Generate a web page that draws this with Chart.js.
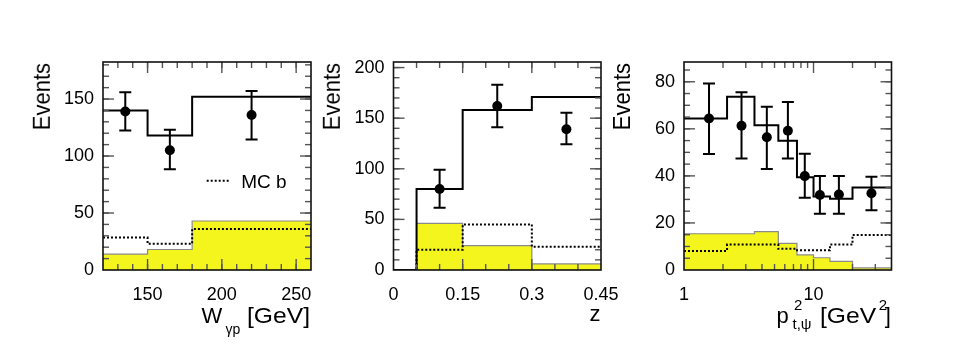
<!DOCTYPE html>
<html><head><meta charset="utf-8">
<script src="https://cdn.jsdelivr.net/npm/chart.js@4.4.0/dist/chart.umd.min.js"></script>
<style>
html,body{margin:0;padding:0;background:#fff;}
#wrap{position:relative;width:954px;height:353px;overflow:hidden;font-family:'Liberation Sans',Arial,Helvetica,sans-serif;color:#000;}
canvas{position:absolute;left:0;top:0;}
.t{position:absolute;white-space:pre;}
.sx{transform-origin:0 0;transform:scaleX(1.12);}
.f22{font-size:22px;line-height:22px;}
.f19{font-size:19px;line-height:19px;}
.f15{font-size:15px;line-height:15px;}
.f14{font-size:14px;line-height:14px;}
.ev{position:absolute;width:150px;text-align:right;font-size:22px;line-height:22px;transform-origin:0 0;transform:rotate(-90deg) scaleY(1.08);white-space:pre;}
</style></head><body><div id="wrap">
<canvas id="c1" width="954" height="353"></canvas>
<canvas id="c2" width="954" height="353"></canvas>
<canvas id="c3" width="954" height="353"></canvas>

<div class="ev" style="left:30.2px;top:213px">Events</div>
<div class="ev" style="left:320.4px;top:213px">Events</div>
<div class="ev" style="left:611.2px;top:213px">Events</div>

<div class="t f19" style="left:241.3px;top:172.2px">MC b</div>

<div class="t f22" style="left:201.5px;top:304.7px">W</div>
<div class="t f14" style="left:225.5px;top:322.2px">γp</div>
<div class="t f22 sx" style="left:247px;top:304.7px">[GeV]</div>

<div class="t f22" style="left:589.5px;top:303.1px">z</div>

<div class="t f22" style="left:776.5px;top:304.9px">p</div>
<div class="t f15" style="left:792.5px;top:316.3px">t,ψ</div>
<div class="t f15" style="left:794px;top:297.3px">2</div>
<div class="t f22 sx" style="left:820.4px;top:304.9px">[GeV</div>
<div class="t f15" style="left:878.8px;top:297.3px">2</div>
<div class="t f22" style="left:884.8px;top:304.9px">]</div>
</div>
<script>
// ---------- Panel 1: W_gamma p ----------
const wEdges = [120, 150, 180, 260];
const wMC    = [140, 118, 152];
const wMCb   = [28.5, 23, 36];
const wBgd   = [14, 18, 43];
const wX     = [135, 165, 220];
const wData  = [139, 105, 136];
const wLow   = [122.5, 88.5, 114.5];
const wHigh  = [156, 123, 157];
const wXTicks = [150, 200, 250];
const wXLabels = ['150', '200', '250'];
const wYTicks = [0, 50, 100, 150];
const wYLabels = ['0', '50', '100', '150'];

// ---------- Panel 2: z ----------
const zEdges = [0, 0.05, 0.15, 0.3, 0.45];
const zMC    = [0, 80, 158, 171];
const zMCb   = [0, 20, 45, 23];
const zBgd   = [0, 46, 24, 6];
const zX     = [0.1, 0.225, 0.375];
const zData  = [80, 162, 139];
const zLow   = [61.6, 141, 124.2];
const zHigh  = [99, 183, 155.4];
const zXTicks = [0, 0.15, 0.3, 0.45];
const zXLabels = ['0', '0.15', '0.3', '0.45'];
const zYTicks = [0, 50, 100, 150, 200];
const zYLabels = ['0', '50', '100', '150', '200'];

// ---------- Panel 3: pt^2 ----------
const pEdges = [1, 2.15, 3.5, 5.35, 7.45, 10, 13.4, 20, 40];
const pMC    = [64.4, 73.6, 61.5, 54.9, 39.4, 31.2, 30.3, 35.1];
const pMCb   = [8.1, 10.8, 10.8, 9.0, 8.4, 8.4, 10.8, 14.9];
const pBgd   = [15.4, 15.4, 16.3, 11.3, 6.4, 5.2, 3.7, 0.9];
const pX     = [1.56, 2.78, 4.36, 6.34, 8.56, 11.2, 15.7, 28];
const pData  = [64.4, 61.3, 56.4, 59.2, 39.9, 31.9, 32.1, 32.6];
const pLow   = [49.3, 47.4, 42.9, 47.4, 30.7, 23.9, 23.9, 25.4];
const pHigh  = [79.3, 75.5, 69.4, 71.4, 49.4, 39.9, 39.9, 39.6];
const pXTicks = [1, 10];
const pXLabels = ['1', '10'];
const pXMinor = [2, 3, 4, 5, 6, 7, 8, 9, 20, 30];
const pYTicks = [0, 20, 40, 60, 80];
const pYLabels = ['0', '20', '40', '60', '80'];

function range(a, b, s) { const r = []; for (let v = a; v <= b + 1e-9; v += s) r.push(+v.toFixed(6)); return r; }
function steps(edges, vals) {
  const pts = vals.map((v, i) => ({x: edges[i], y: v}));
  pts.push({x: edges[edges.length - 1], y: vals[vals.length - 1]});
  return pts;
}

const FONT = {family: "'Liberation Sans', Arial, Helvetica, sans-serif", size: 18};
const YELLOW = '#f5f51e';

function makePanel(id, c) {
  const T = 62, B = 270, YW = 80, XH = 60;
  const deco = {
    id: 'deco' + id,
    afterDatasetsDraw(chart) {
      const {ctx, chartArea: a, scales: {x, y}} = chart;
      ctx.save();
      // error bars
      ctx.strokeStyle = '#000'; ctx.lineWidth = 2;
      c.px.forEach((xv, i) => {
        const px = x.getPixelForValue(xv);
        const y1 = y.getPixelForValue(c.lo[i]), y2 = y.getPixelForValue(c.hi[i]);
        ctx.beginPath();
        ctx.moveTo(px, y1); ctx.lineTo(px, y2);
        ctx.moveTo(px - 6, y1); ctx.lineTo(px + 6, y1);
        ctx.moveTo(px - 6, y2); ctx.lineTo(px + 6, y2);
        ctx.stroke();
      });
      // legend line
      if (c.legend) {
        ctx.setLineDash([2, 2]); ctx.lineWidth = 2;
        ctx.beginPath();
        ctx.moveTo(a.left + 103.7, a.top + 118.7); ctx.lineTo(a.left + 127, a.top + 118.7);
        ctx.stroke(); ctx.setLineDash([]);
      }
      // ticks (inside, all four sides)
      ctx.strokeStyle = '#555'; ctx.lineWidth = 1.4;
      const seg = (x1, y1, x2, y2) => { ctx.beginPath(); ctx.moveTo(x1, y1); ctx.lineTo(x2, y2); ctx.stroke(); };
      const xt = (vals, len) => vals.forEach(v => { const p = x.getPixelForValue(v); if (p <= a.left + 0.5 || p >= a.right - 0.5) return; seg(p, a.bottom, p, a.bottom - len); seg(p, a.top, p, a.top + len); });
      const yt = (vals, len) => vals.forEach(v => { const p = y.getPixelForValue(v); if (p >= a.bottom - 0.5 || p <= a.top + 0.5) return; seg(a.left, p, a.left + len, p); seg(a.right, p, a.right - len, p); });
      xt(c.xMinor, 6); xt(c.xt, 11);
      yt(c.yMinor, 6); yt(c.yt, 11);
      // frame
      ctx.strokeStyle = '#111'; ctx.lineWidth = 1.6;
      ctx.strokeRect(a.left, a.top, a.right - a.left, a.bottom - a.top);
      ctx.restore();
    }
  };
  return new Chart(document.getElementById(id), {
    type: 'line',
    data: {datasets: [
      {label: 'data', data: c.px.map((xv, i) => ({x: xv, y: c.py[i]})), showLine: false,
       pointRadius: 5, pointBackgroundColor: '#000', pointBorderColor: '#000', pointBorderWidth: 0, order: 0},
      {label: 'MC', data: steps(c.edges, c.mc), stepped: true, borderColor: '#000', borderWidth: 2,
       pointRadius: 0, fill: false, order: 1},
      {label: 'MC b', data: steps(c.edges, c.mcb), stepped: true, borderColor: '#000', borderWidth: 2,
       borderDash: [2, 2], pointRadius: 0, fill: false, order: 2},
      {label: 'bgd', data: steps(c.edges, c.bg), stepped: true, borderColor: '#8a8a8a', borderWidth: 1.2,
       backgroundColor: YELLOW, pointRadius: 0, fill: 'origin', order: 3}
    ]},
    options: {
      responsive: false, animation: false, devicePixelRatio: 1,
      layout: {padding: {left: c.L - YW, right: 954 - c.R, top: T, bottom: 353 - B - XH}},
      plugins: {legend: {display: false}, tooltip: {enabled: false}},
      scales: {
        x: {type: c.log ? 'logarithmic' : 'linear', min: c.xmin, max: c.xmax,
            afterBuildTicks: ax => { ax.ticks = c.xt.map(v => ({value: v})); },
            afterFit: s => { s.height = XH; },
            grid: {display: false, drawTicks: false}, border: {display: false},
            ticks: {callback: (v, i) => c.xl[i], font: FONT, color: '#000', padding: 14, maxRotation: 0, autoSkip: false}},
        y: {type: 'linear', min: 0, max: c.ymax,
            afterBuildTicks: ax => { ax.ticks = c.yt.map(v => ({value: v})); },
            afterFit: s => { s.width = YW; },
            grid: {display: false, drawTicks: false}, border: {display: false},
            ticks: {callback: (v, i) => c.yl[i], font: FONT, color: '#000', padding: 9, autoSkip: false}}
      }
    },
    plugins: [deco]
  });
}

makePanel('c1', {L: 103, R: 311, xmin: 120, xmax: 260, ymax: 182.5, edges: wEdges, mc: wMC, mcb: wMCb, bg: wBgd,
  px: wX, py: wData, lo: wLow, hi: wHigh, xt: wXTicks, xl: wXLabels, yt: wYTicks, yl: wYLabels,
  xMinor: range(120, 260, 10), yMinor: range(0, 180, 10), legend: true});
makePanel('c2', {L: 393.5, R: 601, xmin: 0, xmax: 0.45, ymax: 205.5, edges: zEdges, mc: zMC, mcb: zMCb, bg: zBgd,
  px: zX, py: zData, lo: zLow, hi: zHigh, xt: zXTicks, xl: zXLabels, yt: zYTicks, yl: zYLabels,
  xMinor: range(0, 0.45, 0.05), yMinor: range(0, 200, 10)});
makePanel('c3', {L: 684, R: 891.5, xmin: 1, xmax: 40, log: true, ymax: 88.4, edges: pEdges, mc: pMC, mcb: pMCb, bg: pBgd,
  px: pX, py: pData, lo: pLow, hi: pHigh, xt: pXTicks, xl: pXLabels, yt: pYTicks, yl: pYLabels,
  xMinor: pXMinor, yMinor: range(0, 85, 5)});
</script>
</body></html>
